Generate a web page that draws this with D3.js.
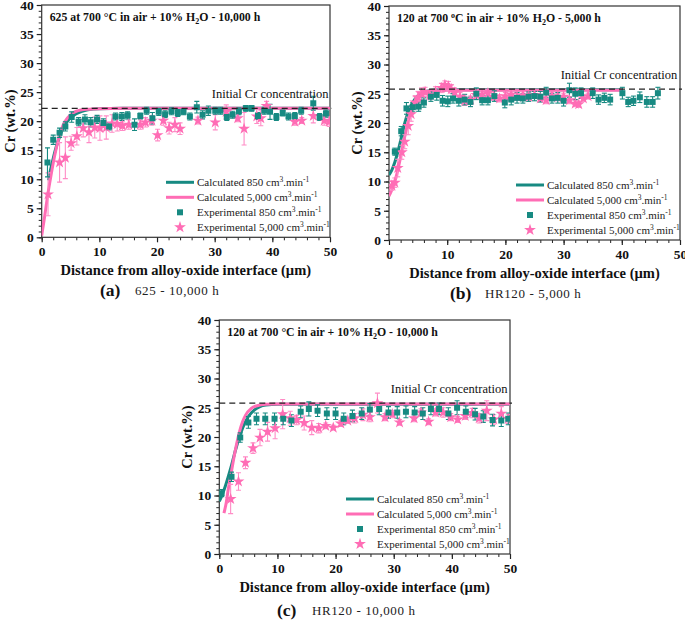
<!DOCTYPE html>
<html><head><meta charset="utf-8">
<script src="https://cdn.jsdelivr.net/npm/d3@7/dist/d3.min.js"></script>
<style>body{margin:0;background:#fff}</style>
</head><body>
<svg id="chart" width="685" height="623"></svg>
<script>
// ---------- DATA ----------
const xTicks = [0, 10, 20, 30, 40, 50];
const yTicks = [0, 5, 10, 15, 20, 25, 30, 35, 40];
const legendLabels = ["Calculated 850", "Calculated 5,000", "Experimental 850", "Experimental 5,000"];

// Panel (a) 625 - 10,000 h
const aInitial = 22.2;
const aCalc850 = [[1.15,9.8],[1.5,11.5],[2,13.6],[2.5,15.5],[3,17.0],[3.5,18.3],[4,19.3],[5,20.6],[6,21.3],[7,21.7],[8,21.95],[10,22.15],[14,22.2],[50,22.2]];
const aCalc5000 = [[0,0.3],[0.5,3.5],[1,7.0],[1.5,10.0],[2,12.8],[2.5,15.2],[3,17.2],[3.5,18.8],[4,19.9],[5,21.1],[6,21.7],[8,22.05],[10,22.15],[14,22.2],[50,22.2]];
const aExp850 = [[1.0,12.9,2.5],[2.0,16.8,0.8],[3.1,18.0,0.8],[4.1,19.1,0.8],[5.2,20.7,0.9],[6.4,19.9,0.7],[7.5,20.3,0.8],[8.5,19.8,0.8],[9.6,20.3,0.7],[10.7,19.7,0.7],[11.7,19.1,0.6],[12.8,20.8,0.6],[13.9,20.8,0.7],[14.9,21.0,0.6],[16.1,19.4,1.0],[17.1,20.9,0.5],[18.2,21.8,0.6],[19.2,20.5,1.0],[20.3,21.6,0.6],[21.4,21.2,0.6],[22.5,21.7,0.6],[23.6,21.4,0.6],[24.6,21.6,0.5],[25.7,20.8,0.6],[26.9,22.4,1.0],[27.9,21.1,0.7],[28.9,21.8,0.8],[30.1,21.8,0.6],[31.0,21.8,0.6],[32.1,20.7,0.6],[33.1,21.1,0.6],[34.2,21.7,0.6],[35.4,22.2,0.5],[36.4,22.2,0.5],[37.5,20.9,0.6],[38.6,21.8,0.6],[39.6,21.6,1.3],[40.7,20.7,0.6],[41.8,21.4,0.5],[42.8,20.8,0.6],[43.9,20.9,0.6],[45.0,21.8,0.6],[47.1,23.1,1.2],[48.2,20.7,0.6],[49.3,21.3,0.6]];
const aExp5000 = [[1.1,7.4,3.7],[3.1,12.9,3.4],[4.1,13.7,3.6],[5.1,16.2,1.2],[6.1,17.4,1.5],[7.2,18.8,1.5],[8.2,18.1,1.8],[9.2,18.9,1.8],[10.1,18.8,2.1],[11.2,18.9,2.0],[12.2,19.6,1.5],[13.1,19.5,1.2],[14.0,19.2,0.8],[15.1,19.4,0.8],[17.1,19.4,0.8],[18.0,19.8,0.8],[19.1,20.1,0.8],[20.1,17.6,1.0],[21.1,20.1,0.8],[22.1,18.8,1.0],[23.1,19.4,1.2],[24.0,18.7,1.0],[27.1,20.1,0.6],[30.1,19.8,1.3],[32.0,21.6,1.2],[34.0,20.5,0.6],[35.1,18.7,2.8],[37.3,20.8,1.2],[38.0,20.5,1.3],[39.0,22.6,0.8],[43.9,19.9,0.6],[45.1,20.1,0.5],[47.1,20.9,1.2],[49.0,20.1,0.8],[49.9,19.9,0.8]];

// Panel (b) HR120 - 5,000 h
const bInitial = 25.8;
const bCalc850 = [[0,11.1],[0.5,12.0],[1,13.3],[1.5,15.0],[2,17.0],[2.5,19.2],[3,21.0],[3.5,22.4],[4,23.4],[5,24.7],[6,25.3],[7,25.55],[8,25.65],[10,25.7],[40,25.7]];
const bCalc5000 = [[0,7.5],[0.5,8.6],[1,10.0],[1.5,11.9],[2,14.2],[2.5,16.7],[3,19.0],[3.5,20.9],[4,22.4],[5,24.2],[6,25.0],[7,25.4],[8,25.55],[10,25.6],[40,25.6]];
const bExp850 = [[1.0,15.1,0.6],[2.1,18.6,0.8],[3.0,22.5,1.0],[4.1,22.7,0.8],[5.1,22.8,0.8],[6.0,23.5,0.8],[7.2,24.5,0.8],[8.2,24.8,0.9],[9.2,23.8,0.9],[10.1,23.7,0.9],[11.0,24.2,0.8],[12.0,23.8,0.9],[13.0,24.0,0.9],[14.0,23.6,0.8],[15.0,25.0,1.0],[16.0,23.9,0.8],[17.0,23.9,0.8],[18.1,24.6,0.9],[19.9,23.5,0.9],[21.0,24.0,0.9],[22.0,24.3,0.9],[23.0,24.2,0.8],[24.0,24.5,0.8],[25.0,24.6,0.8],[26.0,24.5,0.9],[27.0,25.2,0.9],[28.0,24.2,0.8],[29.0,24.3,0.9],[30.0,23.8,0.9],[31.0,25.6,1.2],[32.0,25.0,1.0],[33.0,25.1,0.9],[35.0,25.1,0.9],[36.0,24.0,0.8],[37.0,24.3,0.8],[38.0,24.0,0.9],[40.1,25.1,1.0],[41.1,23.6,0.8],[42.0,23.8,0.8],[43.1,24.4,0.9],[44.3,23.6,0.9],[45.3,23.6,0.9],[46.2,25.1,1.0]];
const bExp5000 = [[0.5,9.3,0.8],[1.0,9.8,0.8],[1.5,12.3,1.5],[2.2,15.0,1.2],[2.7,16.8,1.2],[3.3,19.5,1.5],[3.8,21.5,1.2],[4.5,23.5,1.0],[5.0,24.4,1.0],[5.6,25.0,1.0],[6.2,25.3,0.8],[7.0,24.8,0.8],[8.0,25.4,0.8],[9.0,26.0,0.8],[9.6,26.5,0.7],[10.2,26.3,0.8],[10.7,25.8,0.7],[11.3,25.2,0.6],[12.2,24.5,0.7],[13.0,23.8,0.8],[14.0,24.0,0.6],[15.0,24.8,0.7],[16.0,24.9,0.6],[17.0,25.1,0.6],[18.0,24.5,0.6],[19.0,24.2,0.6],[20.0,24.6,0.6],[21.0,24.9,0.6],[22.0,24.5,0.6],[23.0,24.7,0.6],[24.0,24.5,0.6],[25.0,24.8,0.6],[26.0,24.2,0.6],[27.0,23.9,0.6],[28.0,24.6,0.6],[29.0,24.4,0.6],[30.0,24.5,0.6],[31.0,23.9,0.6],[32.0,23.3,0.5],[32.6,23.2,0.5],[33.4,24.2,0.5],[34.2,24.6,0.5]];

// Panel (c) HR120 - 10,000 h
const cInitial = 25.8;
const cCalc850 = [[0,9.0],[0.5,10.1],[1,11.5],[1.5,13.1],[2,14.8],[2.5,16.7],[3,18.5],[3.5,20.1],[4,21.5],[5,23.5],[6,24.6],[7,25.2],[8,25.45],[10,25.6],[50,25.6]];
const cCalc5000 = [[0.8,7.0],[1.2,8.8],[1.5,10.8],[2,13.6],[2.5,16.4],[3,18.9],[3.5,21.0],[4,22.6],[4.5,23.7],[5.5,24.9],[6.5,25.35],[8,25.6],[10,25.65],[50,25.65]];
const cExp850 = [[0.4,10.4,0.6],[2.1,13.2,0.8],[3.6,19.9,0.8],[5.0,22.5,1.0],[6.4,23.1,1.0],[7.9,23.1,1.0],[9.5,23.1,1.0],[11.0,23.1,1.0],[12.4,22.8,1.0],[14.0,24.3,1.0],[15.4,24.8,1.2],[16.9,24.5,1.0],[18.5,24.0,1.0],[20.0,24.0,1.0],[21.4,23.1,1.0],[22.9,23.6,1.0],[24.5,24.0,1.0],[25.9,24.7,1.0],[27.5,24.8,1.0],[29.1,24.2,1.0],[30.6,24.2,1.0],[32.1,24.3,1.0],[33.6,24.2,1.0],[35.0,24.0,1.0],[36.4,24.8,1.0],[37.8,24.8,1.0],[39.4,24.0,1.0],[40.9,25.0,1.2],[42.4,24.3,1.0],[44.0,23.9,1.0],[45.4,23.5,1.0],[47.0,22.9,1.0],[48.5,22.8,1.0],[49.7,23.1,1.0]];
const cExp5000 = [[1.95,9.4,2.5],[3.3,12.4,1.5],[4.5,15.6,1.0],[5.8,18.1,0.9],[7.0,19.9,1.4],[8.3,20.9,1.6],[9.6,21.5,1.8],[10.9,23.9,2.5],[12.2,23.2,1.2],[13.3,22.9,0.8],[14.6,22.4,1.2],[15.9,21.6,1.2],[17.1,21.5,0.8],[18.3,21.9,0.5],[19.6,21.6,0.4],[20.9,22.3,0.5],[22.1,22.8,0.5],[23.3,23.2,0.8],[24.7,23.8,1.0],[25.9,23.4,0.8],[27.2,25.8,1.7],[28.5,23.4,0.6],[29.8,23.9,0.6],[31.0,22.5,0.5],[33.5,23.2,0.6],[34.7,24.2,0.6],[36.0,22.6,0.5],[37.2,24.2,0.6],[38.5,24.2,0.8],[39.8,23.4,0.6],[41.0,23.0,0.5],[42.3,23.6,0.6],[43.5,24.1,0.8],[44.7,23.2,0.8],[46.0,24.5,1.7],[47.2,23.0,0.8],[48.5,24.0,1.2],[49.7,23.1,0.8]];

// ---------- DRAWING ----------
const TEAL = "#178a82", PINK = "#ff6db5", PINK_ERR = "#ff8cc6";
const SERIF = "'Liberation Serif','Times New Roman',serif";
const svg = d3.select("#chart");
svg.append("rect").attr("width",685).attr("height",623).attr("fill","#fff");

const panels = [
  {L:41.7,R:330,T:5,B:237.3, title:["625 at 700 ","°","C in air + 10% H","2","O - 10,000 h"], degSup:false,
   initial:aInitial, c850:aCalc850, c5000:aCalc5000, e850:aExp850, e5000:aExp5000,
   cap:"(a)", capText:"625 - 10,000 h", capX:100, capY:296},
  {L:389,R:680,T:6,B:240, title:["120 at 700 ","o","C in air + 10% H","2","O - 5,000 h"], degSup:true,
   initial:bInitial, c850:bCalc850, c5000:bCalc5000, e850:bExp850, e5000:bExp5000,
   cap:"(b)", capText:"HR120 - 5,000 h", capX:450, capY:299},
  {L:219.3,R:510,T:320,B:554, title:["120 at 700 ","°","C in air + 10% H","2","O - 10,000 h"], degSup:false,
   initial:cInitial, c850:cCalc850, c5000:cCalc5000, e850:cExp850, e5000:cExp5000,
   cap:"(c)", capText:"HR120 - 10,000 h", capX:277, capY:616}
];

const squareSym = d3.symbol().type(d3.symbolSquare).size(36);
const starSym = d3.symbol().type(d3.symbolStar).size(44);

function drawPanel(p){
  const x = d3.scaleLinear().domain([0,50]).range([p.L,p.R]);
  const y = d3.scaleLinear().domain([0,40]).range([p.B,p.T]);
  const g = svg.append("g");
  const clipId = "clip"+p.cap.replace(/\W/g,"");
  g.append("clipPath").attr("id",clipId).append("rect")
    .attr("x",p.L).attr("y",p.T).attr("width",p.R-p.L).attr("height",p.B-p.T);

  // minor ticks
  g.append("g").attr("transform",`translate(0,${p.B})`)
    .call(d3.axisBottom(x).tickValues(d3.range(0,51,2)).tickSize(3).tickFormat(""))
    .call(a=>{a.select(".domain").remove(); a.selectAll("line").attr("stroke","#222");});
  g.append("g").attr("transform",`translate(${p.L},0)`)
    .call(d3.axisLeft(y).tickValues(d3.range(0,41,1)).tickSize(3).tickFormat(""))
    .call(a=>{a.select(".domain").remove(); a.selectAll("line").attr("stroke","#222");});
  // major axes
  g.append("g").attr("transform",`translate(0,${p.B})`)
    .call(d3.axisBottom(x).tickValues(xTicks).tickSize(5).tickPadding(4).tickFormat(d3.format("d")))
    .call(a=>{a.select(".domain").remove(); a.selectAll("line").attr("stroke","#222").attr("stroke-width",1.2);
      a.selectAll("text").attr("font-family",SERIF).attr("font-weight","bold").attr("font-size",13.5).attr("fill","#111");});
  g.append("g").attr("transform",`translate(${p.L},0)`)
    .call(d3.axisLeft(y).tickValues(yTicks).tickSize(5).tickPadding(3).tickFormat(d3.format("d")))
    .call(a=>{a.select(".domain").remove(); a.selectAll("line").attr("stroke","#222").attr("stroke-width",1.2);
      a.selectAll("text").attr("font-family",SERIF).attr("font-weight","bold").attr("font-size",13.5).attr("fill","#111");});

  // frame
  g.append("rect").attr("x",p.L).attr("y",p.T).attr("width",p.R-p.L).attr("height",p.B-p.T)
    .attr("fill","none").attr("stroke","#333").attr("stroke-width",1.2);

  const plot = g.append("g").attr("clip-path",`url(#${clipId})`);
  const line = d3.line().x(d=>x(d[0])).y(d=>y(d[1])).curve(d3.curveMonotoneX);
  plot.append("path").datum(p.c850).attr("d",line).attr("fill","none").attr("stroke",TEAL).attr("stroke-width",3);
  plot.append("path").datum(p.c5000).attr("d",line).attr("fill","none").attr("stroke",PINK).attr("stroke-width",3);

  function errBars(data,color){
    const eb = plot.append("g").attr("stroke",color).attr("stroke-width",1.1);
    data.forEach(d=>{
      const cx=x(d[0]), y1=y(d[1]-d[2]), y2=y(d[1]+d[2]);
      eb.append("line").attr("x1",cx).attr("x2",cx).attr("y1",y1).attr("y2",y2);
      eb.append("line").attr("x1",cx-2.5).attr("x2",cx+2.5).attr("y1",y1).attr("y2",y1);
      eb.append("line").attr("x1",cx-2.5).attr("x2",cx+2.5).attr("y1",y2).attr("y2",y2);
    });
  }
  errBars(p.e5000,PINK_ERR);
  errBars(p.e850,TEAL);
  plot.append("g").selectAll("path").data(p.e5000).join("path")
    .attr("d",starSym).attr("transform",d=>`translate(${x(d[0])},${y(d[1])})`).attr("fill",PINK);
  plot.append("g").selectAll("path").data(p.e850).join("path")
    .attr("d",squareSym).attr("transform",d=>`translate(${x(d[0])},${y(d[1])})`).attr("fill",TEAL);

  // initial concentration dashed line
  g.append("line").attr("x1",x(0)).attr("x2",x(50)+2).attr("y1",y(p.initial)).attr("y2",y(p.initial))
    .attr("stroke","#222").attr("stroke-width",1.3).attr("stroke-dasharray","6,4");
  g.append("text").attr("x",x(29.5)).attr("y",y(p.initial)-10).text("Initial Cr concentration")
    .attr("font-family",SERIF).attr("font-size",12.5).attr("fill","#111");

  // title
  const t = g.append("text").attr("x",p.L+8).attr("y",p.T+16)
    .attr("font-family",SERIF).attr("font-weight","bold").attr("font-size",11.8).attr("fill","#111");
  t.append("tspan").text(p.title[0]);
  if(p.degSup){ t.append("tspan").attr("dy",-4).attr("font-size",8).text(p.title[1]); t.append("tspan").attr("dy",4).text(p.title[2]); }
  else { t.append("tspan").text(p.title[1]+p.title[2]); }
  t.append("tspan").attr("dy",3).attr("font-size",8).text(p.title[3]);
  t.append("tspan").attr("dy",-3).text(p.title[4]);

  // axis labels
  g.append("text").attr("transform",`translate(${p.L-27},${(p.T+p.B)/2}) rotate(-90)`)
    .attr("text-anchor","middle").attr("font-family",SERIF).attr("font-weight","bold").attr("font-size",14.5)
    .attr("fill","#111").text("Cr (wt.%)");
  g.append("text").attr("x",(p.L+p.R)/2).attr("y",p.B+38).attr("text-anchor","middle")
    .attr("font-family",SERIF).attr("font-weight","bold").attr("font-size",14.5).attr("fill","#111")
    .text("Distance from alloy-oxide interface (µm)");

  // legend
  const lx = p.R-164;
  const rows = [-55,-40,-25,-10];
  legendLabels.forEach((lab,i)=>{
    const ry = p.B+rows[i];
    const col = (i%2===0)?TEAL:PINK;
    if(i<2){
      g.append("line").attr("x1",lx).attr("x2",lx+28).attr("y1",ry).attr("y2",ry).attr("stroke",col).attr("stroke-width",3);
    } else {
      g.append("path").attr("d",i===2?squareSym:starSym).attr("transform",`translate(${lx+14},${ry})`).attr("fill",col);
    }
    const tx = g.append("text").attr("x",lx+31).attr("y",ry+4).attr("font-family",SERIF)
      .attr("font-size",11).attr("fill","#222");
    tx.append("tspan").text(lab+" cm");
    tx.append("tspan").attr("dy",-4).attr("font-size",7.5).text("3");
    tx.append("tspan").attr("dy",4).text(".min");
    tx.append("tspan").attr("dy",-4).attr("font-size",7.5).text("-1");
  });

  // caption
  g.append("text").attr("x",p.capX).attr("y",p.capY).attr("font-family",SERIF).attr("font-weight","bold")
    .attr("font-size",17.5).attr("fill","#111").text(p.cap);
  g.append("text").attr("x",p.capX+35).attr("y",p.capY-1).attr("font-family",SERIF)
    .attr("font-size",13).attr("letter-spacing",0.6).attr("fill","#222").text(p.capText);
}
panels.forEach(drawPanel);
</script>
</body></html>
